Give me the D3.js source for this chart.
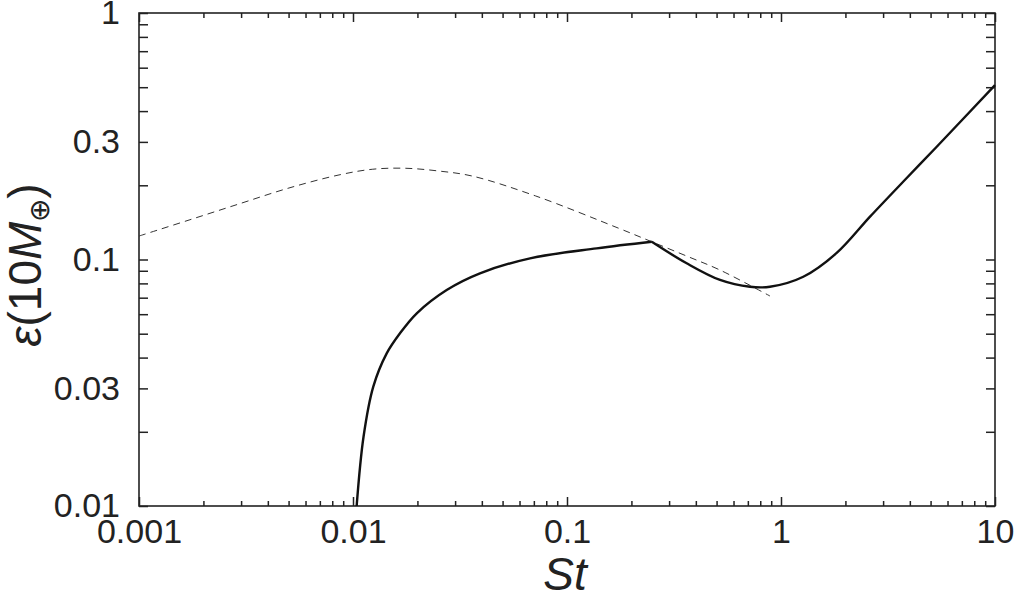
<!DOCTYPE html>
<html lang="en">
<head>
  <meta charset="UTF-8">
  <title>Efficiency vs Stokes number</title>
  <style>
    body { margin: 0; background: #fff; }
    svg  { font-family: "Liberation Sans", Arial, Helvetica, sans-serif; }
    .axis path { display: none; }
    .axis line { stroke: #222; stroke-width: 1.5px; }
    .axis text { fill: #222; font-size: 34px; }
    .frame { fill: none; stroke: #222; stroke-width: 1.6px; }
    .solid  { fill: none; stroke: #111; stroke-width: 2.4px; }
    .dashed { fill: none; stroke: #333; stroke-width: 1px; stroke-dasharray: 7,5; }
    .label { fill: #222; }
  </style>
</head>
<body>
  <svg id="chart" width="1020" height="597"></svg>

  <script src="https://d3js.org/d3.v7.min.js"></script>
  <script>
    /* ---------- data ---------- */
    // solid curve (kinks at St ~ 0.25)
    const solidSt  = [0.0104, 0.0112, 0.01244, 0.01437, 0.01658, 0.01986, 0.0274, 0.0392, 0.0672, 0.1376, 0.249,
                      0.3624, 0.5188, 0.7164, 0.888, 1.271, 1.821, 2.606, 3.868, 5.342, 10];
    const solidEps = [0.01, 0.0191, 0.0305, 0.0416, 0.0502, 0.0605, 0.0752, 0.0879, 0.1011, 0.111, 0.118,
                      0.0965, 0.0826, 0.0775, 0.0775, 0.0851, 0.1063, 0.1492, 0.2141, 0.2868, 0.51];
    const kinkSt = 0.249;

    // dashed curve
    const dashSt  = [0.001, 0.001714, 0.00293, 0.00502, 0.0086, 0.0123, 0.0176, 0.0252, 0.0361, 0.0714, 0.174, 0.249, 0.362, 0.519, 0.888];
    const dashEps = [0.1245, 0.1446, 0.168, 0.195, 0.2203, 0.2323, 0.2345, 0.2285, 0.218, 0.181, 0.134, 0.118, 0.1033, 0.0906, 0.0711];

    // tick labels
    const xLabels = [0.001, 0.01, 0.1, 1, 10];
    const yLabels = [0.01, 0.03, 0.1, 0.3, 1];

    /* ---------- layout & scales ---------- */
    const margin = { top: 13, right: 25, bottom: 91, left: 139 },
          fullW = 1020, fullH = 597,
          width  = fullW - margin.left - margin.right,
          height = fullH - margin.top - margin.bottom;

    const x = d3.scaleLog().domain([0.001, 10]).range([0, width]);
    const y = d3.scaleLog().domain([0.01, 1]).range([height, 0]);

    // 1..9 in every decade
    const logTicks = (lo, hi) => {
      const out = [];
      for (let e = Math.round(Math.log10(lo)); e < Math.round(Math.log10(hi)); e++)
        for (let m = 1; m < 10; m++) out.push(m * Math.pow(10, e));
      out.push(hi);
      return out;
    };
    const xMinor = logTicks(0.001, 10).filter(v => !xLabels.some(l => Math.abs(l - v) / l < 1e-6));
    const yAll   = logTicks(0.01, 1);

    const svg = d3.select('#chart')
      .append('g')
      .attr('transform', `translate(${margin.left},${margin.top})`);

    const fmt = d => String(+d.toPrecision(3));

    /* ---------- axes (ticks pointing inwards) ---------- */
    // bottom
    svg.append('g').attr('class', 'axis')
      .attr('transform', `translate(0,${height})`)
      .call(d3.axisBottom(x).tickValues(xLabels).tickFormat(fmt).tickSize(-9).tickPadding(13));
    svg.append('g').attr('class', 'axis')
      .attr('transform', `translate(0,${height})`)
      .call(d3.axisBottom(x).tickValues(xMinor).tickFormat('').tickSize(-5));
    // top
    svg.append('g').attr('class', 'axis')
      .call(d3.axisTop(x).tickValues(xLabels).tickFormat('').tickSize(-9));
    svg.append('g').attr('class', 'axis')
      .call(d3.axisTop(x).tickValues(xMinor).tickFormat('').tickSize(-5));
    // left
    svg.append('g').attr('class', 'axis')
      .call(d3.axisLeft(y).tickValues(yAll).tickSize(-9).tickPadding(19)
        .tickFormat(d => yLabels.some(l => Math.abs(l - d) / l < 1e-6) ? fmt(d) : ''));
    // right
    svg.append('g').attr('class', 'axis')
      .attr('transform', `translate(${width},0)`)
      .call(d3.axisRight(y).tickValues(yAll).tickFormat('').tickSize(-9));

    svg.append('rect').attr('class', 'frame')
      .attr('width', width).attr('height', height);

    /* ---------- curves ---------- */
    const line = d3.line()
      .x(d => x(d.st))
      .y(d => y(d.eps))
      .curve(d3.curveCatmullRom.alpha(0.5));

    const solid = solidSt.map((s, i) => ({ st: s, eps: solidEps[i] }));
    const dashed = dashSt.map((s, i) => ({ st: s, eps: dashEps[i] }));

    svg.append('path').datum(dashed).attr('class', 'dashed').attr('d', line);
    svg.append('path').datum(solid.filter(d => d.st <= kinkSt)).attr('class', 'solid').attr('d', line);
    svg.append('path').datum(solid.filter(d => d.st >= kinkSt)).attr('class', 'solid').attr('d', line);

    /* ---------- axis titles ---------- */
    d3.select('#chart').append('text')
      .attr('class', 'label')
      .attr('x', margin.left + width / 2 - 2)
      .attr('y', 590)
      .attr('text-anchor', 'middle')
      .style('font-size', '46px')
      .style('font-style', 'italic')
      .text('St');

    const yt = d3.select('#chart').append('text')
      .attr('class', 'label')
      .attr('transform', 'translate(41,265) rotate(-90)')
      .attr('text-anchor', 'middle')
      .style('font-size', '46px');
    yt.append('tspan').style('font-style', 'italic').text('ε');
    yt.append('tspan').text('(10');
    yt.append('tspan').style('font-style', 'italic').text('M');
    yt.append('tspan').attr('dy', 8).style('font-size', '28px').text('⊕');
    yt.append('tspan').attr('dy', -8).text(')');
  </script>
</body>
</html>
